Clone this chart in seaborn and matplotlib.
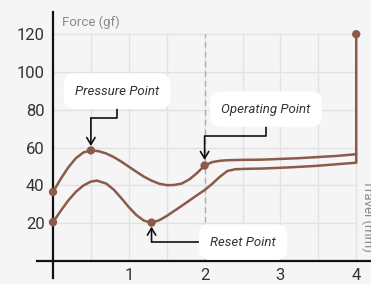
import numpy as np
import pandas as pd
import matplotlib
matplotlib.use("Agg")
import matplotlib.pyplot as plt
import seaborn as sns

# press (upper) curve
press_x = [0.0, 0.1, 0.2, 0.3, 0.4, 0.5, 0.6, 0.7, 0.8, 0.9, 1.0, 1.1, 1.2, 1.3,
           1.4, 1.5, 1.6, 1.7, 1.8, 1.9, 2.0, 2.1, 2.2, 2.3, 2.5, 2.75, 3.0,
           3.25, 3.5, 3.75, 4.0]
press_y = [36.5, 43.3, 49.4, 54.3, 57.4, 58.5, 58.1, 56.9, 55.0, 52.6, 49.9, 47.2,
           44.6, 42.5, 40.9, 40.1, 40.2, 41.0, 43.2, 46.5, 50.5, 52.3, 53.0, 53.3,
           53.5, 53.6, 54.0, 54.4, 55.0, 55.6, 56.5]

# release (lower) curve, ends with the vertical jump at 4 mm
release_x = [0.0, 0.1, 0.2, 0.3, 0.4, 0.5, 0.58, 0.7, 0.8, 0.9, 1.0, 1.1, 1.2, 1.3,
             1.4, 1.5, 1.6, 1.7, 1.8, 1.9, 2.0, 2.1, 2.2, 2.3, 2.4, 2.5, 2.75,
             3.0, 3.25, 3.5, 3.75, 4.0, 4.0]
release_y = [20.5, 26.4, 31.9, 36.5, 39.9, 42.0, 42.5, 41.0, 37.8, 33.3, 28.5, 24.3,
             21.3, 20.3, 21.5, 23.8, 26.5, 29.2, 32.0, 34.8, 37.5, 40.8, 44.5, 47.6,
             48.5, 48.7, 48.9, 49.3, 49.8, 50.4, 51.2, 52.0, 120.0]

# marked points
dot_x = [0.0, 0.0, 0.5, 1.3, 2.0, 4.0]
dot_y = [36.5, 20.5, 58.5, 20.3, 50.5, 120.0]

x_ticks = [1, 2, 3, 4]
y_ticks = [20, 40, 60, 80, 100, 120]

bg = "#f5f5f5"
brown = "#8c5a4b"
ink = "#333333"

sns.set_style("white")
plt.rcParams['font.family'] = ['Roboto', 'DejaVu Sans']

fig = plt.figure(figsize=(3.71, 2.84), dpi=100, facecolor=bg)
ax = fig.add_axes([0, 0, 1, 1])
ax.set_facecolor(bg)
ax.set_xlim(-0.699, 4.195)
ax.set_ylim(-12.2, 138.1)

# grid limited to the data area
for gx in np.arange(0.5, 4.01, 0.5):
    ax.plot([gx, gx], [0, 120], color="#e2e2e2", lw=1, zorder=0)
for gy in y_ticks:
    ax.plot([0, 4], [gy, gy], color="#e2e2e2", lw=1, zorder=0)

# operating point travel marker
ax.plot([2, 2], [0, 120], color="#b9a9a9", lw=1, ls=(0, (4, 3)), zorder=1)

press = pd.DataFrame({"x": press_x, "y": press_y})
release = pd.DataFrame({"x": release_x, "y": release_y})
sns.lineplot(data=press, x="x", y="y", sort=False, estimator=None, color=brown,
             lw=1.8, ax=ax, zorder=3)
sns.lineplot(data=release, x="x", y="y", sort=False, estimator=None, color=brown,
             lw=1.8, ax=ax, zorder=3)
sns.scatterplot(x=dot_x, y=dot_y, color=brown, s=36, edgecolor="none", ax=ax, zorder=4)

# axes crossing at the origin
for side in ["top", "right"]:
    ax.spines[side].set_visible(False)
ax.spines["left"].set_position(("data", 0))
ax.spines["bottom"].set_position(("data", 0))
ax.spines["left"].set_bounds(-9, 131.7)
ax.spines["bottom"].set_bounds(-0.21, 4.2)
for side in ["left", "bottom"]:
    ax.spines[side].set_color("#111111")
    ax.spines[side].set_linewidth(1.6)

ax.set_xticks(x_ticks)
ax.set_xticklabels([str(t) for t in x_ticks])
ax.set_yticks(y_ticks)
ax.set_yticklabels([str(t) for t in y_ticks])
ax.tick_params(axis="x", length=0, pad=5, labelsize=12, labelcolor=ink)
ax.tick_params(axis="y", length=0, pad=6, labelsize=12, labelcolor=ink)
ax.set_xlabel("")
ax.set_ylabel("")

ax.text(0.12, 126.5, "Force (gf)", fontsize=9.5, color="#8a8a8a", ha="left", va="center")
ax.text(4.155, 24, "Travel (mm)", fontsize=9.5, color="#8a8a8a", ha="center",
        va="center", rotation=270)

box = dict(boxstyle="round,pad=0.85,rounding_size=0.8", fc="white", ec="none")


def callout(label, box_xy, mid, target, tip_y):
    bx, by = box_xy
    tx, ty = target
    ax.text(bx, by, label, fontsize=9.5, style="italic", color=ink,
            ha="center", va="center", bbox=box, zorder=6)
    if mid[0] == "h":
        # go vertically from the box, then across, then arrow to the point
        ax.plot([bx, bx, tx], [by, mid[1], mid[1]], color="#111111", lw=1.2, zorder=5)
        start = (tx, mid[1])
    else:
        ax.plot([bx, tx], [by, by], color="#111111", lw=1.2, zorder=5)
        start = (tx, by)
    ax.annotate("", xy=(tx, tip_y), xytext=start,
                arrowprops=dict(arrowstyle="->,head_length=0.5,head_width=0.3",
                                color="#111111", lw=1.2, shrinkA=0, shrinkB=0),
                zorder=5)


callout("Pressure Point", (0.845, 89.9), ("h", 75.7), (dot_x[2], dot_y[2]), 60.8)
callout("Operating Point", (2.81, 80.4), ("h", 66.1), (dot_x[4], dot_y[4]), 53.4)
callout("Reset Point", (2.507, 10.0), ("v", None), (dot_x[3], dot_y[3]), 18.2)

fig.savefig("out.png", dpi=100, facecolor=bg)
